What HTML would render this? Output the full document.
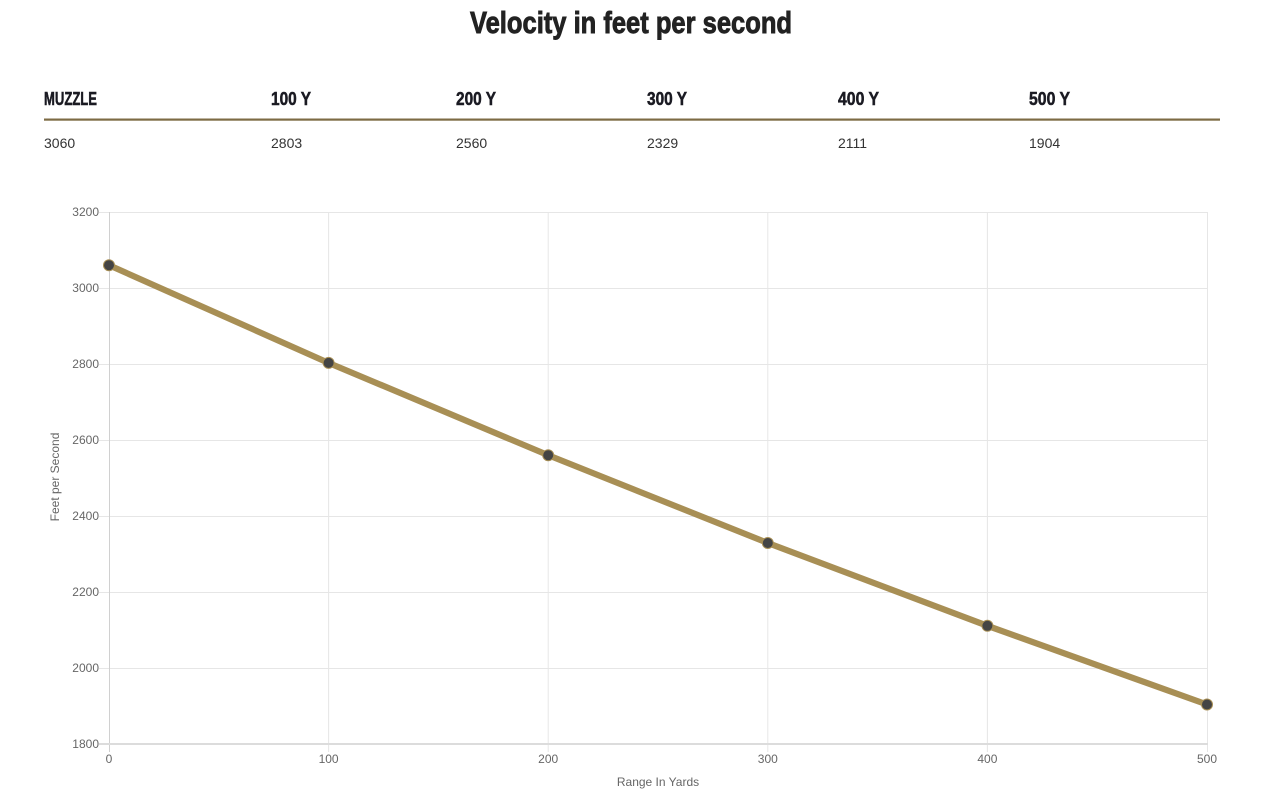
<!DOCTYPE html>
<html>
<head>
<meta charset="utf-8">
<style>
  html,body{margin:0;padding:0;background:#fff;}
  body{width:1278px;height:809px;overflow:hidden;}
  svg{display:block;}
</style>
</head>
<body>
<svg width="1278" height="809" viewBox="0 0 1278 809" xmlns="http://www.w3.org/2000/svg">
  <!-- Title -->
  <text x="470" y="33" font-family="'Liberation Sans Narrow','Liberation Sans',sans-serif" font-weight="bold" font-size="31" fill="#222" stroke="#222" stroke-width="0.9" textLength="322" lengthAdjust="spacingAndGlyphs">Velocity in feet per second</text>

  <!-- Table headers -->
  <g font-family="'Liberation Sans Narrow','Liberation Sans',sans-serif" font-weight="bold" font-size="18" fill="#1a1a22" stroke="#1a1a22" stroke-width="0.5">
    <text x="44" y="105" textLength="53" lengthAdjust="spacingAndGlyphs">MUZZLE</text>
    <text x="271" y="105" textLength="40" lengthAdjust="spacingAndGlyphs">100 Y</text>
    <text x="456" y="105" textLength="40" lengthAdjust="spacingAndGlyphs">200 Y</text>
    <text x="647" y="105" textLength="40" lengthAdjust="spacingAndGlyphs">300 Y</text>
    <text x="838" y="105" textLength="41" lengthAdjust="spacingAndGlyphs">400 Y</text>
    <text x="1029" y="105" textLength="41" lengthAdjust="spacingAndGlyphs">500 Y</text>
  </g>
  <rect x="44" y="118.5" width="1176" height="2.2" fill="#7d6b45"/>
  <g font-family="'Liberation Sans',sans-serif" font-size="14" fill="#333">
    <text x="44" y="148">3060</text>
    <text x="271" y="148">2803</text>
    <text x="456" y="148">2560</text>
    <text x="647" y="148">2329</text>
    <text x="838" y="148">2111</text>
    <text x="1029" y="148">1904</text>
  </g>

  <!-- Grid -->
  <g stroke="#e6e6e6" stroke-width="1">
    <line x1="99" y1="212.5" x2="1207" y2="212.5"/>
    <line x1="99" y1="288.5" x2="1207" y2="288.5"/>
    <line x1="99" y1="364.5" x2="1207" y2="364.5"/>
    <line x1="99" y1="440.5" x2="1207" y2="440.5"/>
    <line x1="99" y1="516.5" x2="1207" y2="516.5"/>
    <line x1="99" y1="592.5" x2="1207" y2="592.5"/>
    <line x1="99" y1="668.5" x2="1207" y2="668.5"/>
    <line x1="328.6" y1="212" x2="328.6" y2="752"/>
    <line x1="548.2" y1="212" x2="548.2" y2="752"/>
    <line x1="767.8" y1="212" x2="767.8" y2="752"/>
    <line x1="987.4" y1="212" x2="987.4" y2="752"/>
    <line x1="1207.5" y1="212" x2="1207.5" y2="752"/>
  </g>
  <line x1="109.5" y1="212" x2="109.5" y2="752" stroke="#d0d0d0" stroke-width="1"/>
  <line x1="99" y1="744" x2="1208" y2="744" stroke="#dcdcdc" stroke-width="2"/>

  <!-- Y tick labels -->
  <g font-family="'Liberation Sans',sans-serif" font-size="12" fill="#666" text-anchor="end">
    <text x="99" y="216">3200</text>
    <text x="99" y="292">3000</text>
    <text x="99" y="368">2800</text>
    <text x="99" y="444">2600</text>
    <text x="99" y="520">2400</text>
    <text x="99" y="596">2200</text>
    <text x="99" y="672">2000</text>
    <text x="99" y="748">1800</text>
  </g>
  <!-- X tick labels -->
  <g font-family="'Liberation Sans',sans-serif" font-size="12" fill="#666" text-anchor="middle">
    <text x="109" y="763">0</text>
    <text x="328.6" y="763">100</text>
    <text x="548.2" y="763">200</text>
    <text x="767.8" y="763">300</text>
    <text x="987.4" y="763">400</text>
    <text x="1207" y="763">500</text>
  </g>
  <!-- Axis titles -->
  <text x="658" y="786" font-family="'Liberation Sans',sans-serif" font-size="12" fill="#666" text-anchor="middle">Range In Yards</text>
  <text transform="translate(59,477) rotate(-90)" font-family="'Liberation Sans',sans-serif" font-size="12" fill="#666" text-anchor="middle">Feet per Second</text>

  <!-- Series -->
  <polyline points="109,265.2 328.6,362.9 548.2,455.2 767.8,543 987.4,625.8 1207,704.5" fill="none" stroke="#a88f55" stroke-width="6.2" stroke-linejoin="round"/>
  <g fill="#444" stroke="#a88f55" stroke-width="1">
    <circle cx="109" cy="265.2" r="5.5"/>
    <circle cx="328.6" cy="362.9" r="5.5"/>
    <circle cx="548.2" cy="455.2" r="5.5"/>
    <circle cx="767.8" cy="543" r="5.5"/>
    <circle cx="987.4" cy="625.8" r="5.5"/>
    <circle cx="1207" cy="704.5" r="5.5"/>
  </g>
</svg>
</body>
</html>
